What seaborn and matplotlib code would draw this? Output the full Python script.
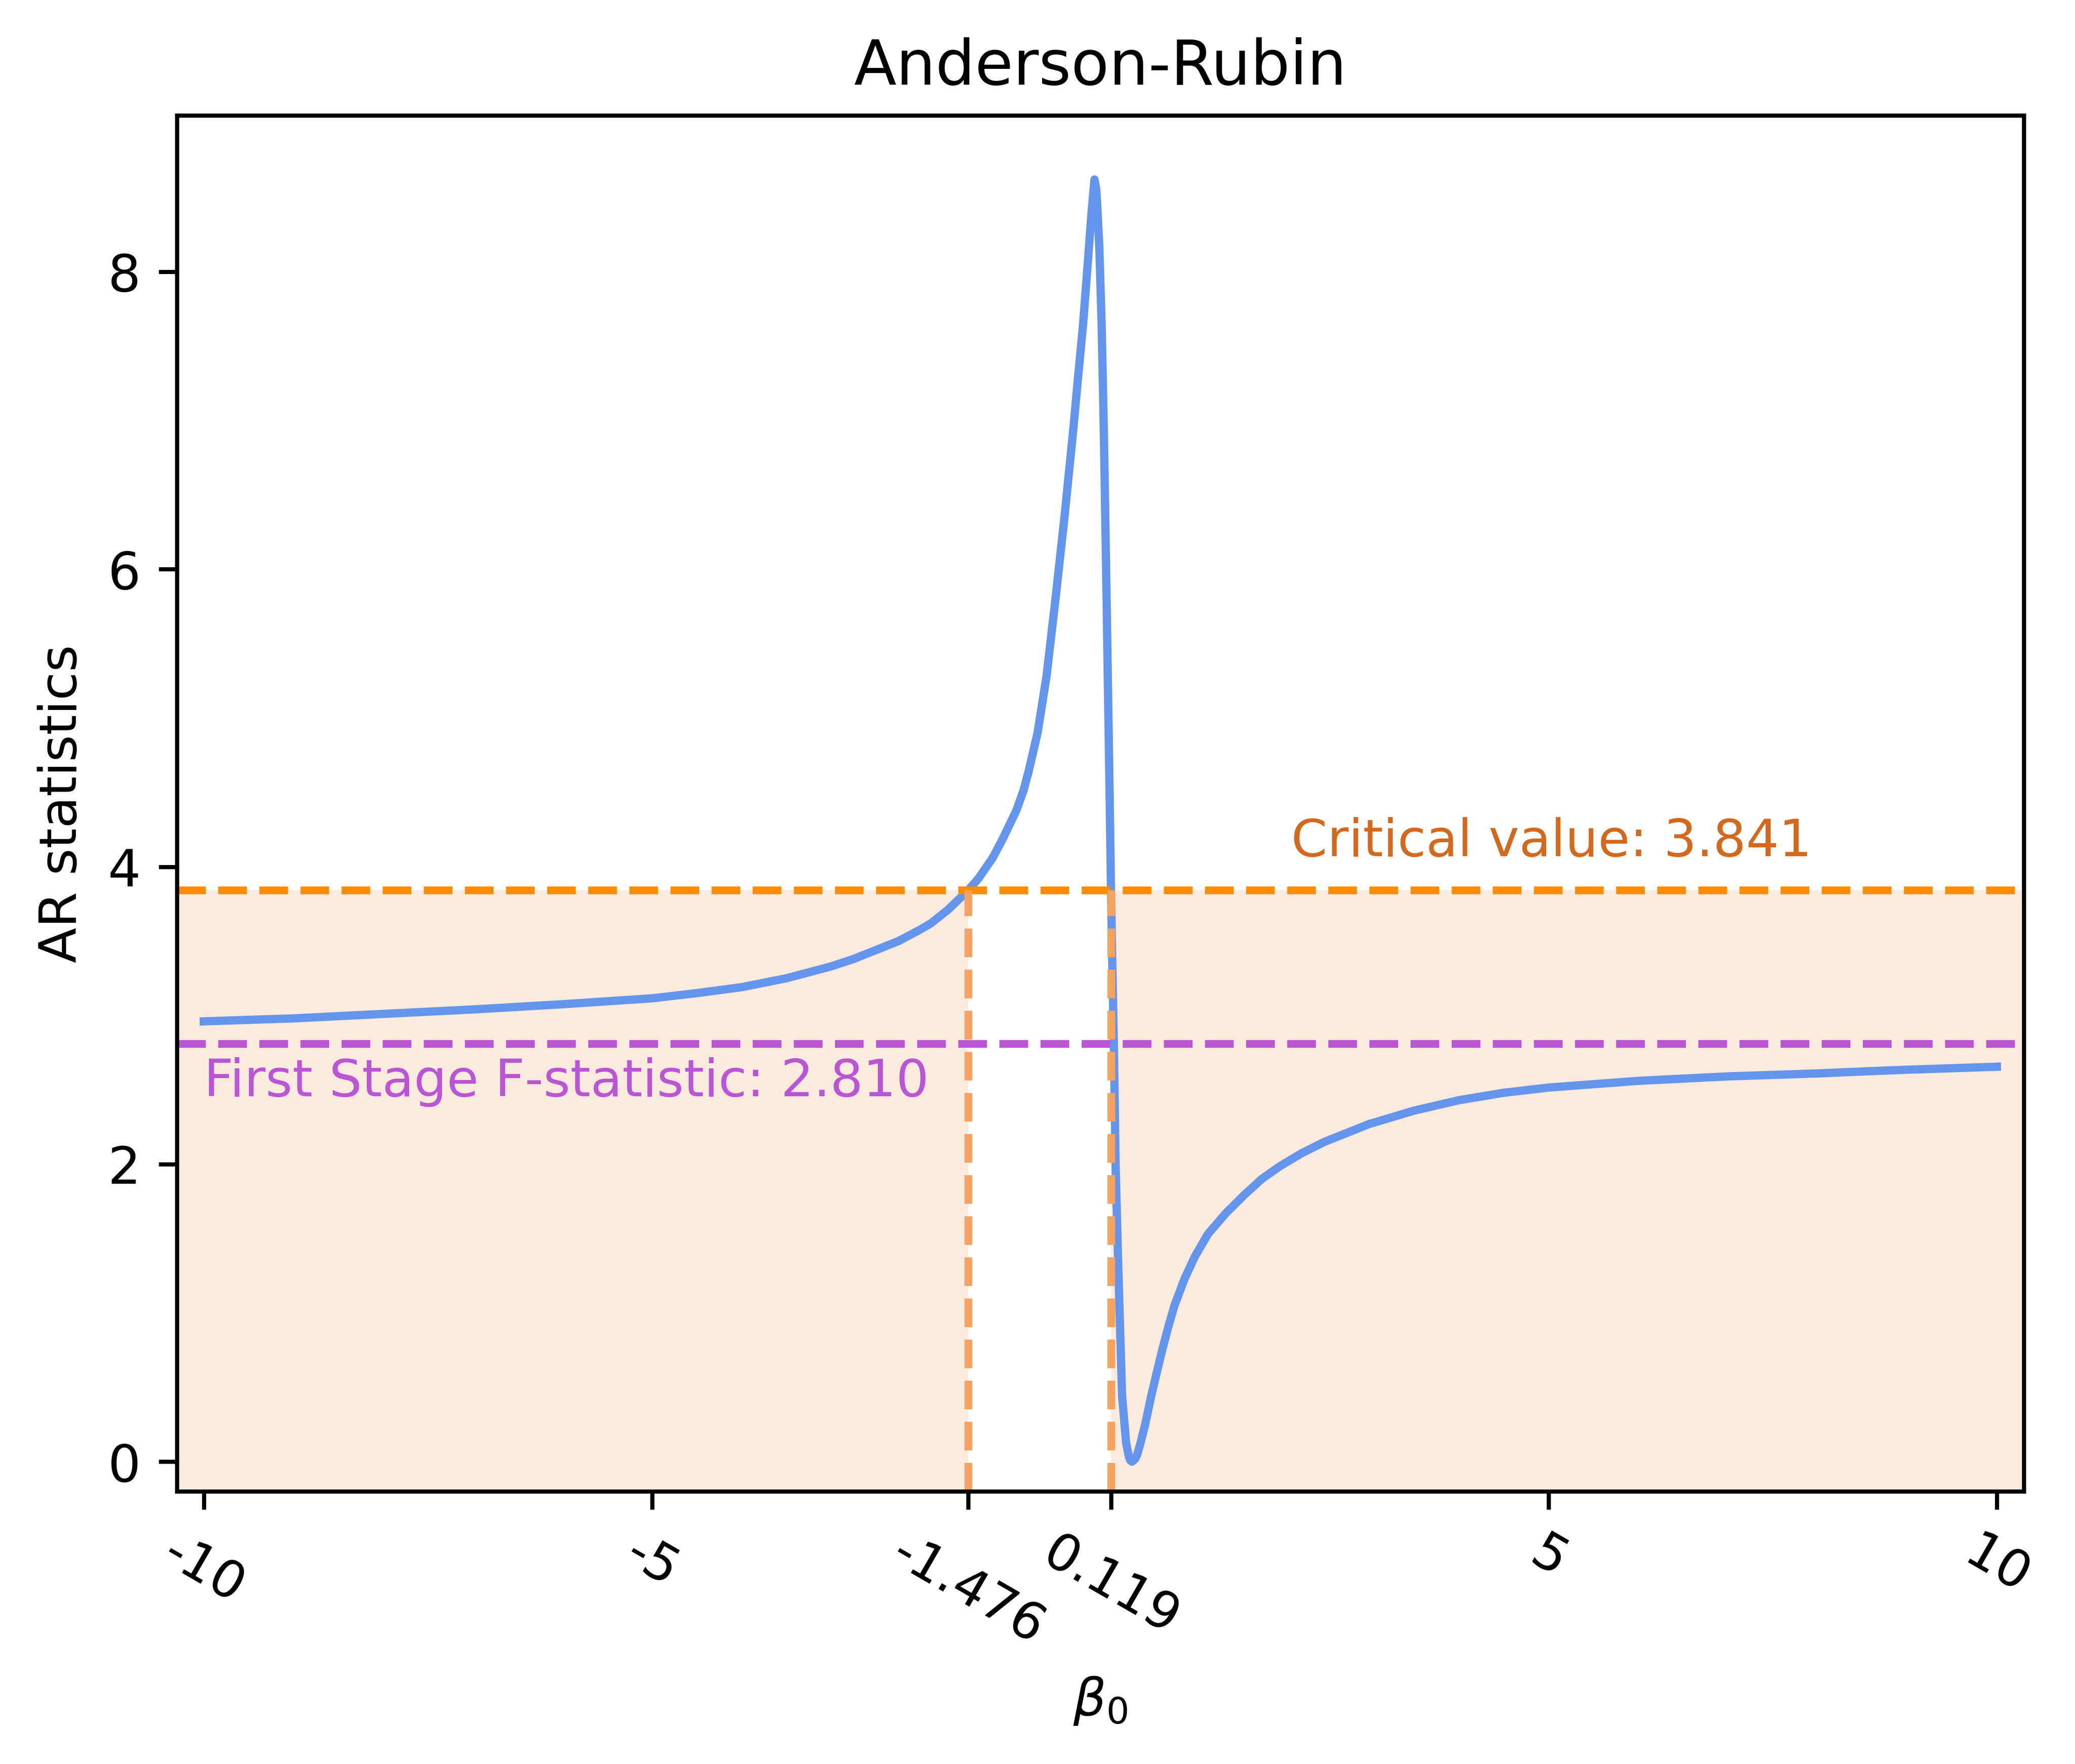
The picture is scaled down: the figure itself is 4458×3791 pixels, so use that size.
import matplotlib
matplotlib.use("Agg")

import matplotlib.pyplot as plt
import numpy as np
import pandas as pd
import seaborn as sns

# AR statistic
BETA0 = [-10.0, -9.0, -8.0, -7.0, -6.0, -5.5, -5.0, -4.5, -4.0, -3.5,
         -3.0, -2.75, -2.5, -2.25, -2.0, -1.888, -1.7, -1.545, -1.476, -1.36,
         -1.2, -1.094, -0.935, -0.858, -0.8, -0.7, -0.6, -0.5, -0.4, -0.3,
         -0.25, -0.193, -0.141, -0.12, -0.1, -0.08, -0.065, -0.045, -0.037, -0.025,
         -0.011, 0.015, 0.04, 0.07, 0.103, 0.119, 0.135, 0.151, 0.17, 0.197,
         0.22, 0.243, 0.288, 0.32, 0.335, 0.352, 0.37, 0.39, 0.41, 0.448,
         0.5, 0.567, 0.63, 0.69, 0.76, 0.827, 0.94, 1.053, 1.2, 1.4,
         1.6, 1.8, 2.0, 2.25, 2.5, 3.0, 3.5, 4.0, 4.5, 5.0,
         6.0, 7.0, 8.0, 8.5, 9.0, 10.0]
AR_STAT = [2.96, 2.98, 3.01, 3.04, 3.075, 3.095, 3.115, 3.15, 3.19, 3.25,
           3.33, 3.38, 3.44, 3.50, 3.58, 3.62, 3.71, 3.80, 3.841, 3.92,
           4.06, 4.18, 4.38, 4.51, 4.64, 4.9, 5.28, 5.8, 6.35, 6.95,
           7.28, 7.64, 8.05, 8.22, 8.38, 8.52, 8.62, 8.55, 8.47, 8.33,
           8.16, 7.64, 6.9, 5.8, 4.51, 3.841, 3.3, 2.8, 2.0, 1.38,
           0.9, 0.44, 0.125, 0.03, 0.008, 0.0, 0.008, 0.02, 0.045, 0.125,
           0.25, 0.44, 0.6, 0.75, 0.91, 1.05, 1.23, 1.377, 1.53, 1.67,
           1.79, 1.9, 1.985, 2.075, 2.15, 2.27, 2.36, 2.43, 2.48, 2.515,
           2.56, 2.59, 2.61, 2.623, 2.635, 2.655]

CRITICAL_VALUE = 3.841
F_STAT = 2.810
CI_BOUNDS = [-1.476, 0.119]

X_TICKS = [-10, -5, CI_BOUNDS[0], CI_BOUNDS[1], 5, 10]
X_TICK_LABELS = ["-10", "-5", "-1.476", "0.119", "5", "10"]
Y_TICKS = [0, 2, 4, 6, 8]

XLIM = (-10.3, 10.3)
YLIM = (-0.2, 9.05)


def plot_anderson_rubin(path="out.png"):
    df = pd.DataFrame({"beta0": BETA0, "ar": AR_STAT})
    fig, ax = plt.subplots(figsize=(6.4, 4.8))

    # accepted region shading (outside the confidence set)
    fill_kw = dict(color="#FBEBDF", linewidth=0)
    ax.fill_between([XLIM[0], CI_BOUNDS[0]], YLIM[0], CRITICAL_VALUE, **fill_kw)
    ax.fill_between([CI_BOUNDS[1], XLIM[1]], YLIM[0], CRITICAL_VALUE, **fill_kw)

    sns.lineplot(data=df, x="beta0", y="ar", color="cornflowerblue", linewidth=1.6,
                 estimator=None, sort=False, ax=ax)

    ax.axhline(CRITICAL_VALUE, color="darkorange", linestyle="--", linewidth=1.5)
    ax.axhline(F_STAT, color="mediumorchid", linestyle="--", linewidth=1.5)
    ax.vlines(CI_BOUNDS, YLIM[0], CRITICAL_VALUE, colors="sandybrown",
              linestyles="--", linewidth=1.5)

    ax.text(2.13, 4.0, f"Critical value: {CRITICAL_VALUE:.3f}", color="chocolate",
            fontsize=10, ha="left", va="bottom")
    ax.text(-10, 2.72, f"First Stage F-statistic: {F_STAT:.3f}", color="mediumorchid",
            fontsize=10, ha="left", va="top")

    ax.set_xlim(*XLIM)
    ax.set_ylim(*YLIM)
    ax.set_xticks(X_TICKS)
    ax.set_xticklabels(X_TICK_LABELS, rotation=-30)
    ax.set_yticks(Y_TICKS)
    ax.set_title("Anderson-Rubin")
    ax.set_xlabel(r"$\beta_0$")
    ax.set_ylabel("AR statistics")

    fig.savefig(path, dpi=800, bbox_inches="tight")
    plt.close(fig)
    return path


plot_anderson_rubin()
